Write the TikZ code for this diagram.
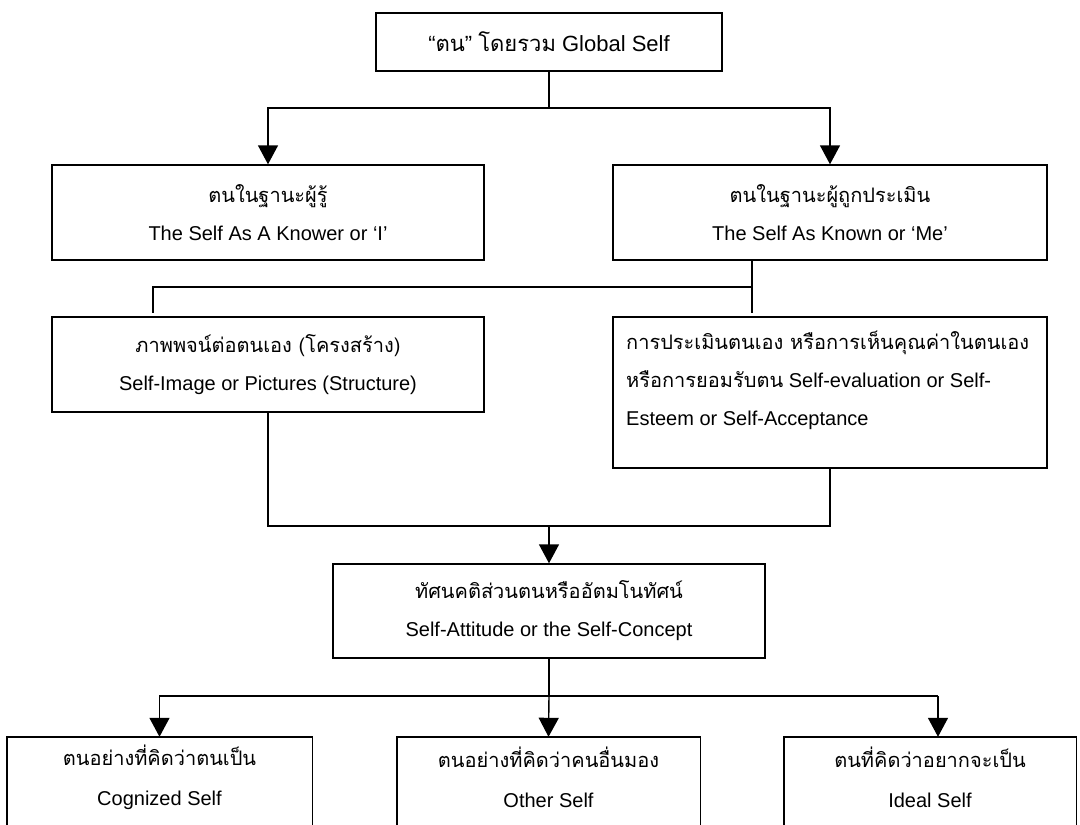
\documentclass[tikz,border=0pt]{standalone}
\usepackage{fontspec}
\setmainfont{Liberation Sans}
\newfontfamily\thai[Script=Thai]{Loma}
\usetikzlibrary{arrows.meta}
\begin{document}
\begin{tikzpicture}[x=1pt,y=-1pt,
  box/.style={draw, line width=1.4pt, inner sep=0pt, align=center,
    font=\fontsize{20}{38}\selectfont},
  openbox/.style={draw=none, inner sep=0pt, align=center,
    font=\fontsize{20}{40}\selectfont},
  txt/.style={inner sep=0pt, align=left, font=\fontsize{20}{38}\selectfont},
  conn/.style={line width=1.4pt},
  arr/.style={line width=1.4pt, -{Triangle[length=19pt,width=20pt]}}]
\clip (0,0) rectangle (1080,825);
\fill[white] (0,0) rectangle (1080,825);

% boxes
\node[box, minimum width=346pt, minimum height=58pt, font=\fontsize{22}{26}\selectfont]
  (top) at (549,42) {“{\thai ตน}” {\thai โดยรวม} Global Self};

\node[box, minimum width=432pt, minimum height=95pt] (knower) at (268,212.5)
  {{\thai ตนในฐานะผู้รู้}\\The Self As A Knower or ‘I’};
\node[box, minimum width=434pt, minimum height=95pt] (known) at (830,212.5)
  {{\thai ตนในฐานะผู้ถูกประเมิน}\\The Self As Known or ‘Me’};

\node[box, minimum width=432pt, minimum height=95pt] (image) at (268,364.5)
  {{\thai ภาพพจน์ต่อตนเอง (โครงสร้าง)}\\Self-Image or Pictures (Structure)};
\node[box, minimum width=434pt, minimum height=151pt] (eval) at (830,392.5) {};
\node[txt, anchor=west] (evaltext) at (626,380)
  {{\thai การประเมินตนเอง หรือการเห็นคุณค่าในตนเอง}\\
   {\thai หรือการยอมรับตน} Self-evaluation or Self-\\
   Esteem or Self-Acceptance};

\node[box, minimum width=432pt, minimum height=94pt] (att) at (549,611)
  {{\thai ทัศนคติส่วนตนหรืออัตมโนทัศน์}\\Self-Attitude or the Self-Concept};

\node[openbox, minimum width=305pt, minimum height=80pt] (cog) at (159.5,777)
  {{\thai ตนอย่างที่คิดว่าตนเป็น}\\Cognized Self};
\node[openbox, minimum width=303pt, minimum height=80pt] (oth) at (548.5,777)
  {{\thai ตนอย่างที่คิดว่าคนอื่นมอง}\\Other Self};
\node[openbox, minimum width=292pt, minimum height=80pt] (idl) at (930,777)
  {{\thai ตนที่คิดว่าอยากจะเป็น}\\Ideal Self};
\foreach \n in {cog,oth,idl}{
  \draw[conn] ([yshift=-60pt]\n.south west) -- (\n.north west) -- (\n.north east)
    -- ([yshift=-60pt]\n.south east);
}

% connectors
\coordinate (j1) at (549,108);
\draw[conn] (top.south) -- (j1);
\draw[arr] (j1) -| (knower.north);
\draw[arr] (j1) -| (known.north);

\coordinate (j2) at (752,287);
\coordinate (e1) at (153,313);
\coordinate (e2) at (752,313);
\draw[conn] (known.south -| j2) -- (e2);
\draw[conn] (j2) -| (e1);

\coordinate (j3) at (549,526);
\draw[conn] (image.south) |- (j3);
\draw[conn] (eval.south) |- (j3);
\draw[arr] (j3) -- (att.north);

\coordinate (j4) at (549,696);
\coordinate (j5) at (938,696);
\draw[conn] (att.south) -- (j4);
\draw[arr] (j4) -| (cog.north);
\draw[arr] (j4) -- (oth.north);
\draw[conn] (j4) -- (j5);
\draw[arr] (j5) -- (j5 |- idl.north);
\end{tikzpicture}
\end{document}
